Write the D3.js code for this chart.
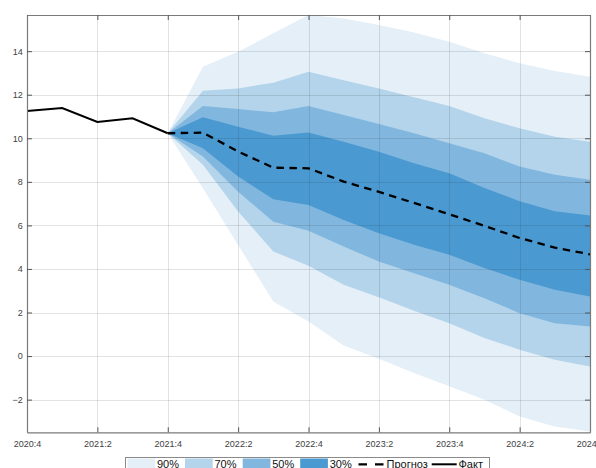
<!DOCTYPE html>
<html>
<head>
<meta charset="utf-8">
<script src="https://cdn.jsdelivr.net/npm/d3@7"></script>
<style>
  html, body { margin: 0; padding: 0; background: #fff; overflow: hidden; }
  svg { display: block; font-family: "Liberation Sans", Arial, sans-serif; }
</style>
</head>
<body>
<svg id="chart" width="596" height="468"></svg>
<script>
// ---- data ----
const xTickLabels = ["2020:4","2021:2","2021:4","2022:2","2022:4","2023:2","2023:4","2024:2","2024:4"];
const yTicks = [-2, 0, 2, 4, 6, 8, 10, 12, 14];
// fact: quarters 0..4 (2020:4 .. 2021:4)
const factValues = [11.25, 11.39, 10.75, 10.92, 10.23];
// forecast: quarters 4..16 (2021:4 .. 2024:4)
const forecastMedian = [10.23, 10.26, 9.39, 8.65, 8.62, 8.01, 7.54, 7.03, 6.51, 5.98, 5.42, 4.98, 4.67];
const upper90 = [10.23, 13.28, 13.97, 14.82, 15.66, 15.50, 15.20, 14.86, 14.43, 13.90, 13.44, 13.09, 12.83];
const upper70 = [10.23, 12.18, 12.29, 12.55, 13.06, 12.66, 12.28, 11.88, 11.48, 10.92, 10.46, 10.07, 9.84];
const upper50 = [10.23, 11.48, 11.34, 11.19, 11.48, 11.07, 10.66, 10.23, 9.77, 9.31, 8.70, 8.32, 8.09];
const upper30 = [10.23, 10.96, 10.53, 10.12, 10.26, 9.84, 9.38, 8.85, 8.39, 7.72, 7.11, 6.65, 6.45];
const lower30 = [10.23, 9.54, 8.24, 7.20, 6.94, 6.25, 5.64, 5.11, 4.65, 4.04, 3.50, 3.04, 2.73];
const lower50 = [10.23, 9.16, 7.55, 6.17, 5.75, 5.03, 4.34, 3.80, 3.27, 2.66, 1.97, 1.51, 1.36];
const lower70 = [10.23, 8.78, 6.64, 4.80, 4.15, 3.27, 2.70, 2.08, 1.51, 0.83, 0.29, -0.17, -0.48];
const lower90 = [10.23, 7.71, 5.10, 2.50, 1.59, 0.48, -0.12, -0.78, -1.39, -2.00, -2.77, -3.23, -3.46];
const bandLabels = ["90%", "70%", "50%", "30%"];
const bandColors = ["#e4eff8", "#b3d4ea", "#81b7de", "#4a99d1"];
const forecastStart = 4;

// ---- layout ----
const svg = d3.select("#chart");
const mLeft = 27, mRight = 590, mTop = 15, mBottom = 432.3;
const x = d3.scaleLinear().domain([0, 16]).range([mLeft, mRight]);
const y = d3.scaleLinear().domain([-3.5, 15.66]).range([mBottom, mTop]);

const bands = [
  {lo: lower90, hi: upper90},
  {lo: lower70, hi: upper70},
  {lo: lower50, hi: upper50},
  {lo: lower30, hi: upper30}
];

const area = d3.area()
  .x(d => x(d.q)).y0(d => y(d.lo)).y1(d => y(d.hi));

bands.forEach((b, i) => {
  const pts = b.lo.map((v, k) => ({q: forecastStart + k, lo: v, hi: b.hi[k]}));
  svg.append("path").datum(pts).attr("d", area).attr("fill", bandColors[i]);
});

// grid
const xTickVals = xTickLabels.map((_, i) => i * 2);
const grid = svg.append("g").attr("stroke", "#262626").attr("stroke-opacity", 0.13).attr("stroke-width", 1);
xTickVals.forEach(v => grid.append("line")
  .attr("x1", Math.round(x(v)) + 0.5).attr("x2", Math.round(x(v)) + 0.5)
  .attr("y1", mTop).attr("y2", mBottom));
yTicks.forEach(v => grid.append("line")
  .attr("y1", Math.round(y(v)) + 0.5).attr("y2", Math.round(y(v)) + 0.5)
  .attr("x1", mLeft).attr("x2", mRight));

// lines
const line = d3.line().x(d => x(d.q)).y(d => y(d.v));
svg.append("path")
  .datum(factValues.map((v, i) => ({q: i, v})))
  .attr("d", line).attr("fill", "none").attr("stroke", "#000").attr("stroke-width", 2);
svg.append("path")
  .datum(forecastMedian.map((v, i) => ({q: forecastStart + i, v})))
  .attr("d", line).attr("fill", "none").attr("stroke", "#000").attr("stroke-width", 2.3)
  .attr("stroke-dasharray", "7.5,5.5");

// axes
const axisColor = "#7a7a7a";
const xAxisB = d3.axisBottom(x).tickValues(xTickVals).tickFormat((d, i) => xTickLabels[i])
  .tickSizeInner(-5).tickSizeOuter(0).tickPadding(8);
const gxb = svg.append("g").attr("transform", `translate(0,${mBottom})`).call(xAxisB);
const xAxisT = d3.axisTop(x).tickValues(xTickVals).tickFormat("").tickSizeInner(-5).tickSizeOuter(0);
const gxt = svg.append("g").attr("transform", `translate(0,${mTop})`).call(xAxisT);
const yAxisL = d3.axisLeft(y).tickValues(yTicks).tickSizeInner(-5).tickSizeOuter(0).tickPadding(4.3);
const gyl = svg.append("g").attr("transform", `translate(${mLeft},0)`).call(yAxisL);
const yAxisR = d3.axisRight(y).tickValues(yTicks).tickFormat("").tickSizeInner(-5).tickSizeOuter(0);
const gyr = svg.append("g").attr("transform", `translate(${mRight},0)`).call(yAxisR);
[gxb, gxt, gyl, gyr].forEach(g => {
  g.select(".domain").attr("stroke", axisColor).attr("stroke-width", 1.2);
  g.selectAll(".tick line").attr("stroke", "#555");
  g.selectAll(".tick text").attr("fill", "#404040").attr("font-size", 9)
    .attr("font-family", "Liberation Sans, Arial, sans-serif");
});

// legend
const leg = svg.append("g");
leg.append("rect").attr("x", 125.5).attr("y", 457.5).attr("width", 364).attr("height", 30)
  .attr("fill", "#fff").attr("stroke", "#8a8a8a").attr("stroke-width", 1);
const swX = [127.5, 185, 242.7, 300.2];
const textBase = 468;
bandLabels.forEach((lab, i) => {
  leg.append("rect").attr("x", swX[i]).attr("y", 458.5).attr("width", 27.7).attr("height", 12)
    .attr("fill", bandColors[i]);
  leg.append("text").attr("x", swX[i] + 29.5).attr("y", textBase).attr("font-size", 11)
    .attr("fill", "#111").text(lab);
});
leg.append("line").attr("x1", 358.5).attr("x2", 383.5).attr("y1", 464.3).attr("y2", 464.3)
  .attr("stroke", "#000").attr("stroke-width", 2.3).attr("stroke-dasharray", "8.5,8");
leg.append("text").attr("x", 386.5).attr("y", textBase).attr("font-size", 11).attr("fill", "#111").text("Прогноз");
leg.append("line").attr("x1", 431.7).attr("x2", 456.7).attr("y1", 464.3).attr("y2", 464.3)
  .attr("stroke", "#000").attr("stroke-width", 2);
leg.append("text").attr("x", 458.5).attr("y", textBase).attr("font-size", 11).attr("fill", "#111").text("Факт");
</script>
</body>
</html>
